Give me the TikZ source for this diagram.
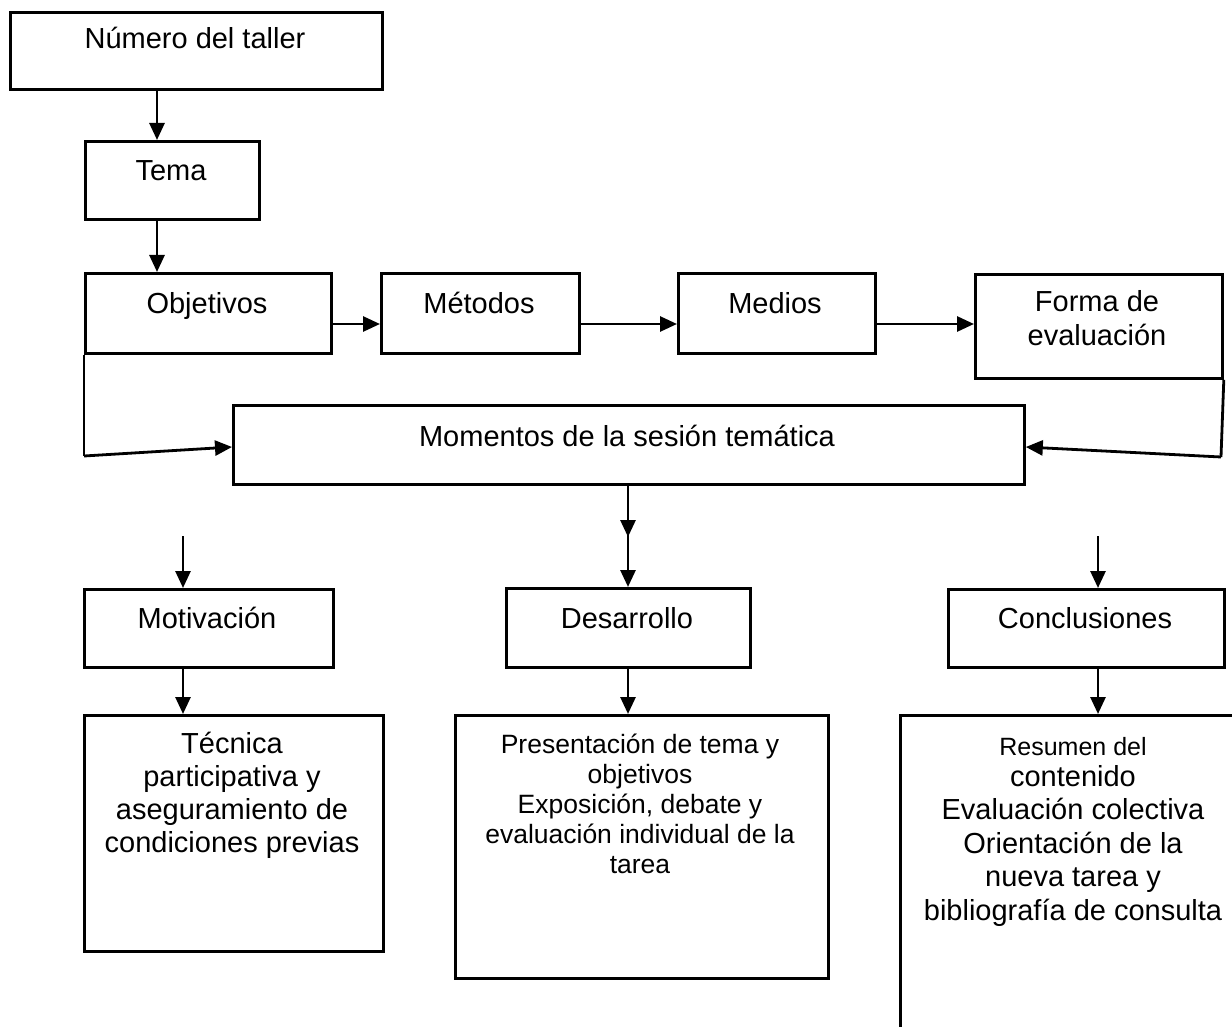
\documentclass[tikz,border=0pt]{standalone}
\usepackage{fontspec}
\setmainfont{Liberation Sans}
\usetikzlibrary{arrows.meta}
\begin{document}
\begin{tikzpicture}[x=1pt,y=-1pt,
  box/.style={draw=black,line width=2.8pt,inner sep=0pt,anchor=north west},
  txt/.style={inner sep=0pt,font=\fontsize{29}{33}\selectfont},
  mtxt/.style={inner sep=0pt,align=center,anchor=north},
  arr/.style={line width=2.8pt,-{Triangle[length=17pt,width=15pt]}},
  ln/.style={line width=2.8pt}]
\useasboundingbox (0,0) rectangle (1232,1027);
\clip (0,0) rectangle (1232,1027);
% boxes
\node[box,minimum width=372pt,minimum height=77pt] (num) at (9,11) {};
\node[box,minimum width=174pt,minimum height=78pt] (tema) at (84,140) {};
\node[box,minimum width=246pt,minimum height=80pt] (obj) at (84,272) {};
\node[box,minimum width=198pt,minimum height=80pt] (met) at (380,272) {};
\node[box,minimum width=197pt,minimum height=80pt] (med) at (677,272) {};
\node[box,minimum width=247pt,minimum height=104pt] (forma) at (974,273) {};
\node[box,minimum width=791pt,minimum height=79pt] (mom) at (232,404) {};
\node[box,minimum width=249pt,minimum height=78pt] (mot) at (83,588) {};
\node[box,minimum width=244pt,minimum height=79pt] (des) at (505,587) {};
\node[box,minimum width=276pt,minimum height=78pt] (con) at (947,588) {};
\node[box,minimum width=299pt,minimum height=236pt] (tec) at (83,714) {};
\node[box,minimum width=373pt,minimum height=263pt] (pres) at (454,714) {};
\node[box,minimum width=350pt,minimum height=340pt] (res) at (899,714) {};
% texts
\node[txt,anchor=base] (numt) at (195,49) {Número del taller};
\node[txt,anchor=base] (temat) at (171,181) {Tema};
\node[txt,anchor=base] (objt) at (207,313) {Objetivos};
\node[txt,anchor=base] (mett) at (479,313) {Métodos};
\node[txt,anchor=base] (medt) at (775,313) {Medios};
\node[txt,anchor=base] (format1) at (1097,312) {Forma de};
\node[txt,anchor=base] (format2) at (1097,345) {evaluación};
\node[txt,anchor=base] (momt) at (627,446) {Momentos de la sesión temática};
\node[txt,anchor=base] (mott) at (207,628) {Motivación};
\node[txt,anchor=base] (dest) at (627,628) {Desarrollo};
\node[txt,anchor=base] (cont) at (1085,628) {Conclusiones};
\node[txt,mtxt] (tect) at (232,732) {Técnica\\participativa y\\aseguramiento de\\condiciones previas};
\node[mtxt,font=\fontsize{26.5}{30}\selectfont] (prest) at (640,734)
  {Presentación de tema y\\objetivos\\Exposición, debate y\\evaluación individual de la\\tarea};
\node[mtxt,font=\fontsize{25}{31}\selectfont] (rest1) at (1073,737) {Resumen del};
\node[mtxt,font=\fontsize{29}{33.5}\selectfont] (rest2) at (1073,765)
  {contenido\\Evaluación colectiva\\Orientación de la\\nueva tarea y\\bibliografía de consulta};
% connectors
\coordinate (mA) at (628,535);
\coordinate (lA) at (183,536);
\coordinate (rA) at (1098,536);
\draw[arr] (num.south -| 157,0) -- (tema.north -| 157,0);
\draw[arr] (tema.south -| 157,0) -- (obj.north -| 157,0);
\draw[arr] (obj.east |- 0,324) -- (met.west |- 0,324);
\draw[arr] (met.east |- 0,324) -- (med.west |- 0,324);
\draw[arr] (med.east |- 0,324) -- (forma.west |- 0,324);
\draw[ln] (obj.south west) -- (84,456);
\draw[arr] (84,456) -- (mom.west |- 0,447);
\draw[ln] (forma.south east) -- (1221,457);
\draw[arr] (1221,457) -- (mom.east |- 0,447);
\draw[arr] (mom.south -| mA) -- ([yshift=-2pt]mA);
\draw[arr] ([yshift=2pt]mA) -- (des.north -| mA);
\draw[arr] (lA) -- (mot.north -| lA);
\draw[arr] (rA) -- (con.north -| rA);
\draw[arr] (mot.south -| lA) -- (tec.north -| lA);
\draw[arr] (des.south -| mA) -- (pres.north -| mA);
\draw[arr] (con.south -| rA) -- (res.north -| rA);
\end{tikzpicture}
\end{document}
